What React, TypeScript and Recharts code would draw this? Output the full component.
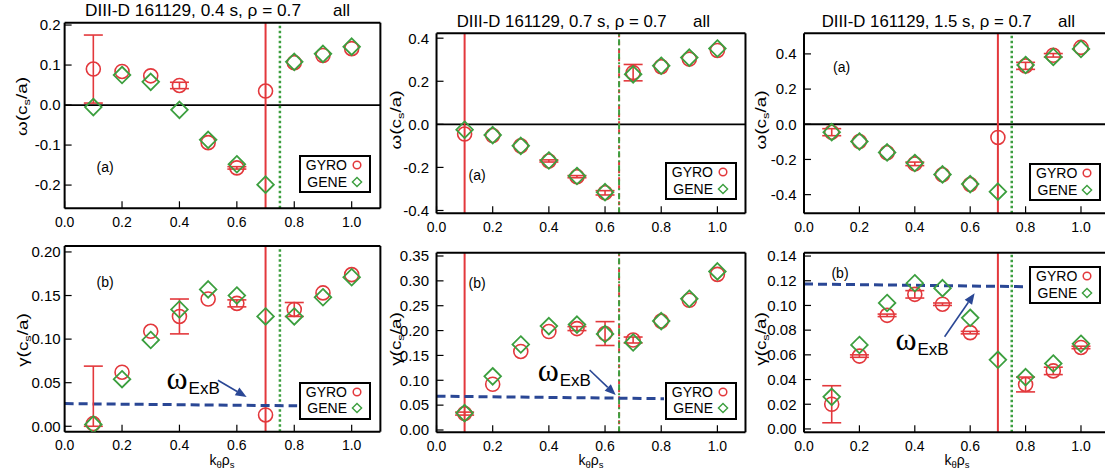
import React from 'react';
import {
  ComposedChart,
  Scatter,
  Line,
  XAxis,
  YAxis,
  ErrorBar,
  ReferenceLine,
  ReferenceDot,
  Legend,
} from 'recharts';

const PAGE_W = 1105;
const PAGE_H = 476;
const SANS = '"Liberation Sans", Arial, Helvetica, sans-serif';
const SERIF = '"Liberation Serif", "Times New Roman", serif';
const RED = '#e3383c';
const GREEN = '#3c9f3f';
const NAVY = '#2a4795';
const INK = '#000';

// binormal wavenumber k_theta rho_s of every simulated mode
const kTheta = [0.1, 0.2, 0.3, 0.4, 0.5, 0.6, 0.7, 0.8, 0.9, 1.0];
const kTicks = [0, 0.2, 0.4, 0.6, 0.8, 1.0];
const kRange: [number, number] = [0, 1.1];

type Err = number | [number, number];

// ---- t = 0.4 s ----
const gyroOmega04 = [0.09, 0.084, 0.073, 0.049, -0.094, -0.157, 0.035, 0.106, 0.124, 0.141];
const gyroOmegaErr04: Err[] = [0.085, 0, 0, 0.008, 0, 0.003, 0, 0, 0, 0];
const geneOmega04 = [-0.005, 0.075, 0.058, -0.012, -0.087, -0.148, -0.199, 0.108, 0.128, 0.146];
const gyroGamma04 = [0.003, 0.062, 0.109, 0.126, 0.146, 0.141, 0.013, 0.134, 0.153, 0.174];
const gyroGammaErr04: Err[] = [[0.003, 0.066], 0, 0, 0.02, 0, 0.004, 0, 0.008, 0, 0];
const geneGamma04 = [0.002, 0.054, 0.099, 0.134, 0.157, 0.15, 0.126, 0.126, 0.148, 0.171];
const exbK04 = [0, 0.81];
const exbRate04 = [0.026, 0.0235];

// ---- t = 0.7 s ----
const gyroOmega07 = [-0.045, -0.052, -0.1, -0.17, -0.243, -0.318, 0.24, 0.268, 0.303, 0.343];
const gyroOmegaErr07: Err[] = [0, 0, 0, 0.005, 0.005, 0.01, 0.038, 0, 0, 0];
const geneOmega07 = [-0.025, -0.05, -0.1, -0.168, -0.24, -0.315, 0.232, 0.272, 0.31, 0.352];
const gyroGamma07 = [0.033, 0.092, 0.158, 0.198, 0.204, 0.194, 0.181, 0.219, 0.261, 0.313];
const gyroGammaErr07: Err[] = [0.003, 0, 0, 0, 0.004, 0.024, 0.006, 0, 0, 0];
const geneGamma07 = [0.034, 0.108, 0.172, 0.209, 0.212, 0.193, 0.176, 0.219, 0.264, 0.319];
const exbK07 = [0, 0.81];
const exbRate07 = [0.068, 0.063];

// ---- t = 1.5 s ----
const gyroOmega15 = [-0.045, -0.098, -0.162, -0.225, -0.287, -0.342, -0.075, 0.332, 0.392, 0.437];
const gyroOmegaErr15: Err[] = [0.02, 0, 0, 0.01, 0, 0, 0, 0.02, 0.01, 0];
const geneOmega15 = [-0.045, -0.098, -0.16, -0.22, -0.285, -0.34, -0.383, 0.337, 0.383, 0.428];
const gyroGamma15 = [0.02, 0.059, 0.092, 0.109, 0.101, 0.078, null, 0.036, 0.047, 0.066];
const gyroGammaErr15: Err[] = [0.015, 0.001, 0.001, 0.003, 0.001, 0.001, 0, 0.006, 0.003, 0.001];
const geneGamma15 = [0.026, 0.068, 0.102, 0.118, 0.114, 0.09, 0.056, 0.042, 0.053, 0.069];
const exbK15 = [0, 0.8];
const exbRate15 = [0.1174, 0.1152];

// tick labels
const omegaTicks04 = [-0.2, -0.1, 0, 0.1, 0.2];
const omegaTicksWide = [-0.4, -0.2, 0, 0.2, 0.4];
const gammaTicks04 = [0, 0.05, 0.1, 0.15, 0.2];
const gammaTicks07 = [0, 0.05, 0.1, 0.15, 0.2, 0.25, 0.3, 0.35];
const gammaTicks15 = [0, 0.02, 0.04, 0.06, 0.08, 0.1, 0.12, 0.14];

const timeLabels = ['0.4 s', '0.7 s', '1.5 s'];
const legendOrder = ['GYRO', 'GENE'];

const minorTicks = (lo: number, hi: number, step: number) => {
  const out: number[] = [];
  const n0 = Math.ceil(lo / step - 1e-6);
  const n1 = Math.floor(hi / step + 1e-6);
  for (let n = n0; n <= n1; n++) out.push(+(n * step).toFixed(6));
  return out;
};

interface PanelSpec {
  id: string;
  margin: { top: number; right: number; bottom: number; left: number };
  yRange: [number, number];
  yTicks: number[];
  yMinorStep: number;
  yDigits: number;
  yLabelGap: number;
  gyro: (number | null)[];
  gyroErr: Err[];
  gene: number[];
  zeroLine: boolean;
  redSolid: number[];
  greenDotted: number[];
  mixed: number[];
  exb?: {
    k: number[];
    rate: number[];
    labelAt: [number, number];
    arrow: [[number, number], [number, number]];
  };
  tag: { text: string; at: [number, number] };
  legendAt: [number, number];
}

const panels: PanelSpec[] = [
  {
    id: 'w04',
    margin: { top: 22.7, right: 724.6, bottom: 267.7, left: 64.6 },
    yRange: [-0.258, 0.2058],
    yTicks: omegaTicks04,
    yMinorStep: 0.01,
    yDigits: 1,
    yLabelGap: 4,
    gyro: gyroOmega04,
    gyroErr: gyroOmegaErr04,
    gene: geneOmega04,
    zeroLine: true,
    redSolid: [0.7],
    greenDotted: [0.75],
    mixed: [],
    tag: { text: '(a)', at: [0.141, -0.155] },
    legendAt: [299, 155],
  },
  {
    id: 'g04',
    margin: { top: 246, right: 724.6, bottom: 44.3, left: 64.6 },
    yRange: [-0.0062, 0.2068],
    yTicks: gammaTicks04,
    yMinorStep: 0.01,
    yDigits: 2,
    yLabelGap: 4,
    gyro: gyroGamma04,
    gyroErr: gyroGammaErr04,
    gene: geneGamma04,
    zeroLine: false,
    redSolid: [0.7],
    greenDotted: [0.75],
    mixed: [],
    exb: {
      k: exbK04,
      rate: exbRate04,
      labelAt: [0.355, 0.0424],
      arrow: [
        [0.534, 0.0528],
        [0.634, 0.0336],
      ],
    },
    tag: { text: '(b)', at: [0.141, 0.1655] },
    legendAt: [299, 381.7],
  },
  {
    id: 'w07',
    margin: { top: 33.3, right: 359.5, bottom: 262.7, left: 436.5 },
    yRange: [-0.413, 0.4226],
    yTicks: omegaTicksWide,
    yMinorStep: 0.05,
    yDigits: 1,
    yLabelGap: 7.5,
    gyro: gyroOmega07,
    gyroErr: gyroOmegaErr07,
    gene: geneOmega07,
    zeroLine: true,
    redSolid: [0.1],
    greenDotted: [],
    mixed: [0.65],
    tag: { text: '(a)', at: [0.1446, -0.2355] },
    legendAt: [665, 162.3],
  },
  {
    id: 'g07',
    margin: { top: 252.7, right: 359.5, bottom: 43.7, left: 436.5 },
    yRange: [-0.0046, 0.3566],
    yTicks: gammaTicks07,
    yMinorStep: 0.01,
    yDigits: 2,
    yLabelGap: 7.5,
    gyro: gyroGamma07,
    gyroErr: gyroGammaErr07,
    gene: geneGamma07,
    zeroLine: false,
    redSolid: [0.1],
    greenDotted: [],
    mixed: [0.65],
    exb: {
      k: exbK07,
      rate: exbRate07,
      labelAt: [0.36, 0.0986],
      arrow: [
        [0.545, 0.1207],
        [0.638, 0.0704],
      ],
    },
    tag: { text: '(b)', at: [0.1446, 0.296] },
    legendAt: [665, 381.7],
  },
  {
    id: 'w15',
    margin: { top: 33.3, right: -3.7, bottom: 262.7, left: 804 },
    yRange: [-0.506, 0.517],
    yTicks: omegaTicksWide,
    yMinorStep: 0.05,
    yDigits: 1,
    yLabelGap: 7.5,
    gyro: gyroOmega15,
    gyroErr: gyroOmegaErr15,
    gene: geneOmega15,
    zeroLine: true,
    redSolid: [0.7],
    greenDotted: [0.75],
    mixed: [],
    tag: { text: '(a)', at: [0.136, 0.327] },
    legendAt: [1029.3, 163.3],
  },
  {
    id: 'g15',
    margin: { top: 252.7, right: -3.7, bottom: 43.7, left: 804 },
    yRange: [-0.0027, 0.1427],
    yTicks: gammaTicks15,
    yMinorStep: 0.005,
    yDigits: 2,
    yLabelGap: 7.5,
    gyro: gyroGamma15,
    gyroErr: gyroGammaErr15,
    gene: geneGamma15,
    zeroLine: false,
    redSolid: [0.7],
    greenDotted: [0.75],
    mixed: [],
    exb: {
      k: exbK15,
      rate: exbRate15,
      labelAt: [0.33, 0.064],
      arrow: [
        [0.5076, 0.0747],
        [0.616, 0.1099],
      ],
    },
    tag: { text: '(b)', at: [0.13, 0.126] },
    legendAt: [1029.3, 266],
  },
];

const THIN = 0.01;
const frameLine = { stroke: INK, strokeWidth: 2 };
const tickStroke = { stroke: INK, strokeWidth: 1.2 };

const GyroMarker = (props: any) => {
  const { cx, cy } = props;
  if (cx == null || cy == null) return <g />;
  return <circle cx={cx} cy={cy} r={7} fill="none" stroke={RED} strokeWidth={1.6} />;
};

const GeneMarker = (props: any) => {
  const { cx, cy } = props;
  if (cx == null || cy == null) return <g />;
  const h = 8.3;
  return (
    <polygon
      points={`${cx},${cy - h} ${cx + h},${cy} ${cx},${cy + h} ${cx - h},${cy}`}
      fill="none"
      stroke={GREEN}
      strokeWidth={1.8}
    />
  );
};

const ArrowShape = (props: any) => {
  const { x1, y1, x2, y2 } = props;
  if ([x1, y1, x2, y2].some((v) => v == null || Number.isNaN(v))) return <g />;
  const ang = Math.atan2(y2 - y1, x2 - x1);
  const len = 11;
  const half = 4.5;
  const bx = x2 - len * Math.cos(ang);
  const by = y2 - len * Math.sin(ang);
  const px = -Math.sin(ang) * half;
  const py = Math.cos(ang) * half;
  return (
    <g>
      <line x1={x1} y1={y1} x2={bx} y2={by} stroke={NAVY} strokeWidth={1.6} />
      <polygon points={`${x2},${y2} ${bx + px},${by + py} ${bx - px},${by - py}`} fill={NAVY} />
    </g>
  );
};

const exbLabel = (props: any) => {
  const { cx, cy } = props;
  return (
    <text x={cx} y={cy} fill={INK} fontFamily={SERIF} fontSize={32}>
      ω
      <tspan fontFamily={SANS} fontSize={17} dx={1} dy={5}>
        ExB
      </tspan>
    </text>
  );
};

const tagLabel = (text: string) => (props: any) => {
  const { cx, cy } = props;
  return (
    <text x={cx} y={cy + 5} fill={INK} fontFamily={SANS} fontSize={14} textAnchor="middle">
      {text}
    </text>
  );
};

const LegendBox = (props: any) => {
  const entries = legendOrder
    .map((name) => (props.payload ?? []).find((e: any) => e.value === name))
    .filter(Boolean);
  return (
    <div
      style={{
        position: 'relative',
        width: 72,
        height: 38,
        boxSizing: 'border-box',
        border: '2px solid #000',
        background: '#fff',
        fontFamily: SANS,
        fontSize: 14,
        color: INK,
      }}
    >
      {entries.map((entry: any, i: number) => (
        <div
          key={entry.value}
          style={{ position: 'absolute', left: 0, top: i * 16.7, width: 68, height: 16, lineHeight: '16px' }}
        >
          <span style={{ position: 'absolute', right: 22, top: 0, whiteSpace: 'nowrap' }}>{entry.value}</span>
          <svg width={12} height={12} style={{ position: 'absolute', left: 50, top: 2 }}>
            {entry.value === 'GYRO' ? (
              <circle cx={6} cy={6} r={3.8} fill="none" stroke={RED} strokeWidth={1.5} />
            ) : (
              <polygon points="6,1.4 10.6,6 6,10.6 1.4,6" fill="none" stroke={GREEN} strokeWidth={1.4} />
            )}
          </svg>
        </div>
      ))}
    </div>
  );
};

function PanelChart({ p }: { p: PanelSpec }) {
  const gyroPts = kTheta.flatMap((k, i) =>
    p.gyro[i] == null ? [] : [{ k, v: p.gyro[i] as number, err: p.gyroErr[i] }],
  );
  const genePts = kTheta.map((k, i) => ({ k, v: p.gene[i], err: 0 }));
  const exbPts = p.exb ? p.exb.k.map((k, i) => ({ k, g: p.exb!.rate[i] })) : [];
  const xMinor = minorTicks(kRange[0], kRange[1], 0.05);
  const yMinor = minorTicks(p.yRange[0], p.yRange[1], p.yMinorStep);

  return (
    <div style={{ position: 'absolute', left: 0, top: 0 }}>
      <ComposedChart width={PAGE_W} height={PAGE_H} margin={p.margin}>
        <XAxis
          type="number"
          dataKey="k"
          domain={kRange}
          allowDataOverflow
          ticks={kTicks}
          interval={0}
          height={THIN}
          tickSize={-7}
          tickMargin={15.5}
          tickFormatter={(v: number) => v.toFixed(1)}
          tick={{ fontSize: 14, fill: INK, fontFamily: SANS }}
          axisLine={frameLine}
          tickLine={tickStroke}
        />
        <XAxis
          xAxisId="xMinor"
          type="number"
          domain={kRange}
          allowDataOverflow
          ticks={xMinor}
          interval={0}
          height={THIN}
          tickSize={-3.5}
          tick={false}
          axisLine={false}
          tickLine={tickStroke}
        />
        <XAxis
          xAxisId="xTop"
          orientation="top"
          type="number"
          domain={kRange}
          allowDataOverflow
          ticks={kTicks}
          interval={0}
          height={THIN}
          tickSize={-7}
          tick={false}
          axisLine={frameLine}
          tickLine={tickStroke}
        />
        <XAxis
          xAxisId="xTopMinor"
          orientation="top"
          type="number"
          domain={kRange}
          allowDataOverflow
          ticks={xMinor}
          interval={0}
          height={THIN}
          tickSize={-3.5}
          tick={false}
          axisLine={false}
          tickLine={tickStroke}
        />
        <YAxis
          type="number"
          domain={p.yRange}
          allowDataOverflow
          ticks={p.yTicks}
          interval={0}
          width={THIN}
          tickSize={-7}
          tickMargin={7 + p.yLabelGap}
          tickFormatter={(v: number) => v.toFixed(p.yDigits)}
          tick={{ fontSize: 15, fill: INK, fontFamily: SANS }}
          axisLine={frameLine}
          tickLine={tickStroke}
        />
        <YAxis
          yAxisId="yMinor"
          type="number"
          domain={p.yRange}
          allowDataOverflow
          ticks={yMinor}
          interval={0}
          width={THIN}
          tickSize={-3.5}
          tick={false}
          axisLine={false}
          tickLine={tickStroke}
        />
        <YAxis
          yAxisId="yRight"
          orientation="right"
          type="number"
          domain={p.yRange}
          allowDataOverflow
          ticks={p.yTicks}
          interval={0}
          width={THIN}
          tickSize={-7}
          tick={false}
          axisLine={frameLine}
          tickLine={tickStroke}
        />
        <YAxis
          yAxisId="yRightMinor"
          orientation="right"
          type="number"
          domain={p.yRange}
          allowDataOverflow
          ticks={yMinor}
          interval={0}
          width={THIN}
          tickSize={-3.5}
          tick={false}
          axisLine={false}
          tickLine={tickStroke}
        />

        {p.zeroLine && <ReferenceLine y={0} stroke={INK} strokeWidth={1.8} />}
        {p.redSolid.map((x) => (
          <ReferenceLine key={`r${x}`} x={x} stroke={RED} strokeWidth={2} />
        ))}
        {p.greenDotted.map((x) => (
          <ReferenceLine key={`g${x}`} x={x} stroke={GREEN} strokeWidth={2.5} strokeDasharray="2.5 2.5" />
        ))}
        {p.mixed.map((x) => (
          <ReferenceLine key={`mr${x}`} x={x} stroke={RED} strokeWidth={2} strokeDasharray="4 4" />
        ))}
        {p.mixed.map((x) => (
          <ReferenceLine key={`mg${x}`} x={x} stroke={GREEN} strokeWidth={2} strokeDasharray="6 3 2 3" />
        ))}

        {p.exb && (
          <Line
            data={exbPts}
            dataKey="g"
            stroke={NAVY}
            strokeWidth={3}
            strokeDasharray="9 5"
            dot={false}
            activeDot={false}
            legendType="none"
            isAnimationActive={false}
          />
        )}
        {p.exb && (
          <ReferenceLine
            segment={[
              { x: p.exb.arrow[0][0], y: p.exb.arrow[0][1] },
              { x: p.exb.arrow[1][0], y: p.exb.arrow[1][1] },
            ]}
            shape={ArrowShape}
          />
        )}
        {p.exb && <ReferenceDot x={p.exb.labelAt[0]} y={p.exb.labelAt[1]} r={0} shape={exbLabel} />}
        <ReferenceDot x={p.tag.at[0]} y={p.tag.at[1]} r={0} shape={tagLabel(p.tag.text)} />

        <Scatter name="GYRO" data={gyroPts} dataKey="v" shape={GyroMarker} fill={RED} isAnimationActive={false}>
          <ErrorBar dataKey="err" direction="y" width={9.5} stroke={RED} strokeWidth={1.6} />
        </Scatter>
        <Scatter name="GENE" data={genePts} dataKey="v" shape={GeneMarker} fill={GREEN} isAnimationActive={false}>
          <ErrorBar dataKey="err" direction="y" width={8} stroke={GREEN} strokeWidth={1.6} />
        </Scatter>

        <Legend
          layout="vertical"
          align="center"
          verticalAlign="middle"
          content={LegendBox}
          wrapperStyle={{
            left: p.legendAt[0],
            top: p.legendAt[1],
            right: 'auto',
            bottom: 'auto',
            width: 72,
            height: 38,
            margin: 0,
            padding: 0,
          }}
        />
      </ComposedChart>
    </div>
  );
}

// titles, axis names
const titleSpots = [
  { x: 85, y: 16, len: 216, allX: 333 },
  { x: 456.7, y: 26.7, len: 210, allX: 693 },
  { x: 821.7, y: 26.7, len: 210, allX: 1058 },
];
const yNameSpots = [
  { x: 27, y: 106.5, omega: true },
  { x: 28, y: 340, omega: false },
  { x: 401, y: 120, omega: true },
  { x: 401, y: 339, omega: false },
  { x: 766, y: 120, omega: true },
  { x: 766, y: 339, omega: false },
];
const xNameSpots = [222, 591, 957];

function Annotations() {
  return (
    <svg
      width={PAGE_W}
      height={PAGE_H}
      style={{ position: 'absolute', left: 0, top: 0, pointerEvents: 'none' }}
      fontFamily={SANS}
    >
      {titleSpots.map((t, i) => (
        <g key={`t${i}`}>
          <text x={t.x} y={t.y} fontSize={17} fill={INK} textLength={t.len} lengthAdjust="spacingAndGlyphs">
            {`DIII-D 161129, ${timeLabels[i]}, ρ = 0.7`}
          </text>
          <text x={t.allX} y={t.y} fontSize={17} fill={INK}>
            all
          </text>
        </g>
      ))}
      {yNameSpots.map((s, i) => (
        <text
          key={`y${i}`}
          transform={`translate(${s.x},${s.y}) rotate(-90) scale(1.35,1)`}
          textAnchor="middle"
          fontSize={14}
          fill={INK}
        >
          {s.omega ? 'ω(c' : 'γ(c'}
          <tspan fontSize={9.5} dy={3}>
            s
          </tspan>
          <tspan dy={-3}>/a)</tspan>
        </text>
      ))}
      {xNameSpots.map((x, i) => (
        <text key={`x${i}`} x={x} y={465} textAnchor="middle" fontSize={14} fill={INK}>
          k
          <tspan fontSize={9.5} dy={3}>
            θ
          </tspan>
          <tspan dy={-3}>ρ</tspan>
          <tspan fontSize={9.5} dy={3}>
            s
          </tspan>
        </text>
      ))}
    </svg>
  );
}

export default function App() {
  return (
    <div
      style={{
        position: 'absolute',
        left: 0,
        top: 0,
        width: PAGE_W,
        height: PAGE_H,
        overflow: 'hidden',
        background: '#fff',
      }}
    >
      {panels.map((p) => (
        <PanelChart key={p.id} p={p} />
      ))}
      <Annotations />
    </div>
  );
}
